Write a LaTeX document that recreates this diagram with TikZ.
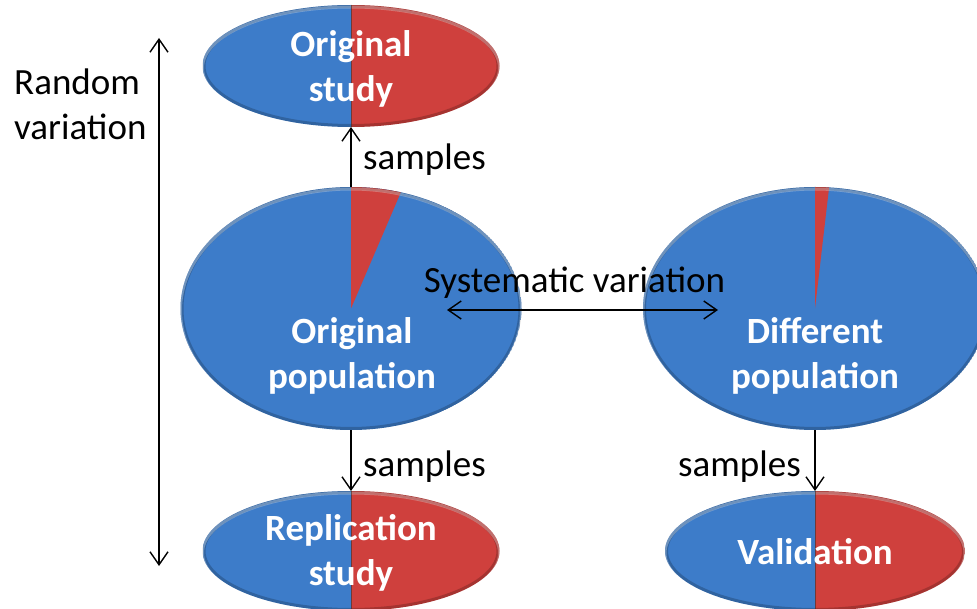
\documentclass[tikz,border=0pt]{standalone}
\usepackage{fontspec}
\setmainfont{Carlito}
\usetikzlibrary{arrows.meta,shapes.geometric}
\definecolor{pieblue}{HTML}{3D7CC9}
\definecolor{piered}{HTML}{CF403D}

% half blue / half red ellipse: cx, cy, rx, ry
\newcommand\HalfPie[4]{%
  \begin{scope}
    \clip (#1,#2) ellipse [x radius=#3pt, y radius=#4pt];
    \fill[pieblue] (#1-#3,#2-#4) rectangle (#1,#2+#4);
    \fill[piered] (#1,#2-#4) rectangle (#1+#3,#2+#4);
    \draw[black, opacity=0.2, line width=6pt] (#1,#2) ellipse [x radius=#3pt, y radius=#4pt];
    \draw[white, opacity=0.3, line width=3pt] (#1,#2+2) ellipse [x radius=#3pt, y radius=#4pt];
    \draw[black!80, opacity=0.6, line width=0.8pt] (#1,#2-#4) -- (#1,#2+#4);
  \end{scope}}
% blue ellipse with red wedge from the top: cx, cy, rx, ry, end angle
\newcommand\WedgePie[5]{%
  \begin{scope}
    \clip (#1,#2) ellipse [x radius=#3pt, y radius=#4pt];
    \fill[pieblue] (#1,#2) ellipse [x radius=#3pt, y radius=#4pt];
    \fill[piered] (#1,#2) -- (#1,#2-#4) arc[start angle=90, end angle=#5, x radius=#3pt, y radius=#4pt] -- cycle;
    \draw[black, opacity=0.2, line width=6pt] (#1,#2) ellipse [x radius=#3pt, y radius=#4pt];
    \draw[white, opacity=0.3, line width=3pt] (#1,#2+2) ellipse [x radius=#3pt, y radius=#4pt];
  \end{scope}}

\begin{document}
\begin{tikzpicture}[x=1pt,y=-1pt,
  lbl/.style={font=\fontsize{37}{45}\selectfont\bfseries, text=white, align=center, inner sep=0pt},
  note/.style={font=\fontsize{37}{45}\selectfont, text=black, inner sep=0pt},
  arr/.style={line width=1.4pt, -{Straight Barb[length=13pt,width=18pt]}},
  darr/.style={line width=1.4pt, {Straight Barb[length=13pt,width=18pt]}-{Straight Barb[length=13pt,width=18pt]}},
  pie/.style={ellipse, inner sep=0pt, outer sep=0pt, draw=none}]
\useasboundingbox (0,0) rectangle (977,609);

% filled pies
\HalfPie{351}{66}{148.5}{61}
\WedgePie{351}{308.5}{170.5}{121.5}{73}
\WedgePie{815}{308.5}{172}{121.5}{85.3}
\HalfPie{351}{551}{148.5}{60}
\HalfPie{815}{551}{150}{60}

% pie nodes
\node[pie, minimum width=297pt, minimum height=122pt] (os) at (351,66) {};
\node[pie, minimum width=341pt, minimum height=243pt] (op) at (351,308.5) {};
\node[pie, minimum width=344pt, minimum height=243pt] (dp) at (815,308.5) {};
\node[pie, minimum width=297pt, minimum height=120pt] (rs) at (351,551) {};
\node[pie, minimum width=300pt, minimum height=120pt] (vs) at (815,551) {};

% pie labels
\node[lbl] (ost) at (351,69) {Original\\study};
\node[lbl] (opt) at (352,356) {Original\\population};
\node[lbl] (dpt) at (815,356) {Different\\population};
\node[lbl] (rst) at (351,553) {Replication\\study};
\node[lbl, anchor=base] (vst) at (815,564) {Validation};

% sampling arrows
\draw[arr] (op.north) -- (os.south);
\draw[arr] (op.south) -- (rs.north);
\draw[arr] (dp.south) -- (vs.north);
\node[note, anchor=base west] (s1) at (363,170) {samples};
\node[note, anchor=base west] (s2) at (363,476) {samples};
\node[note, anchor=base east] (s3) at (801,476) {samples};

% systematic variation
\coordinate (sysL) at (447,310);
\coordinate (sysR) at (718,310);
\draw[darr] (sysL) -- (sysR);
\node[note, anchor=base] (sv) at (574.5,293) {Systematic variation};

% random variation
\coordinate (rvT) at (159,38);
\coordinate (rvB) at (159,566);
\draw[darr] (rvB) -- (rvT);
\node[note, anchor=north west, align=left] (rv) at (14,69) {Random\\variation};
\end{tikzpicture}
\end{document}
